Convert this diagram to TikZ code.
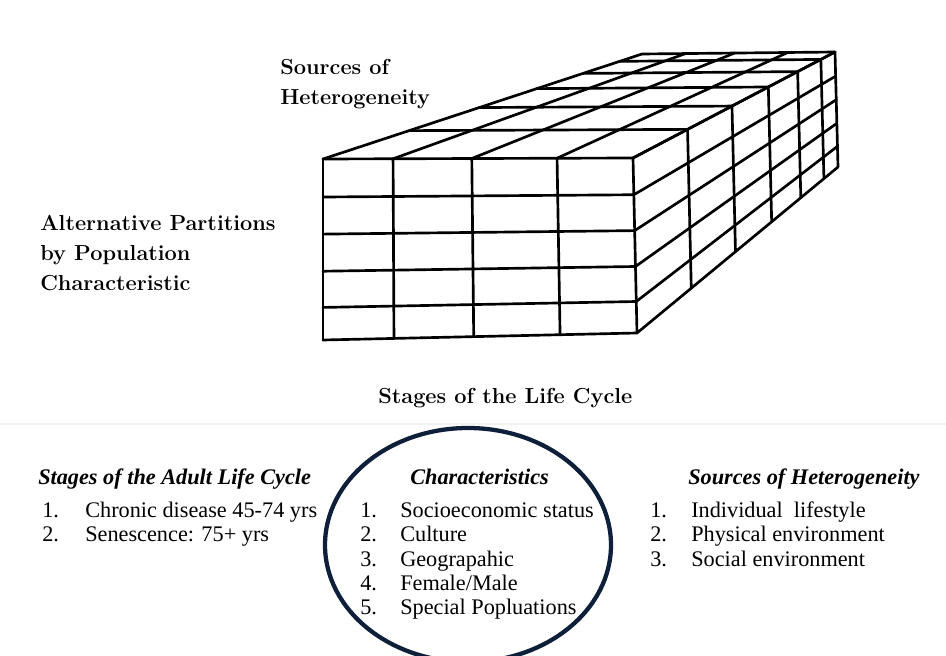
\documentclass[tikz,border=0pt]{standalone}
\usepackage{fontspec}
\newfontfamily\tnr{Liberation Serif}
\usetikzlibrary{calc}
\definecolor{navy}{RGB}{14,31,58}
\begin{document}
\begin{tikzpicture}[x=0.75pt,y=-0.75pt,
  grid/.style={line width=2pt, line cap=round, line join=round},
  biglabel/.style={anchor=base west, inner sep=0pt, font=\fontsize{16.3}{22.5}\selectfont\bfseries, align=left},
  head/.style={anchor=base west, inner sep=0pt, font=\tnr\fontsize{16.7}{18.4}\selectfont\bfseries\itshape},
  item/.style={anchor=base west, inner sep=0pt, font=\tnr\fontsize{16.7}{18.4}\selectfont}]
\useasboundingbox (0,0) rectangle (946,656);
\clip (0,0) rectangle (946,656);
% cube corners
\coordinate (FTL) at (323,159);
\coordinate (FTR) at (633,158);
\coordinate (FBL) at (323,340);
\coordinate (FBR) at (637,333);
\coordinate (BTL) at (642,54);
\coordinate (BTR) at (835,52);
\coordinate (BBR) at (838,167);
% front face
\foreach \u in {0,0.226,0.48,0.755,1}
  \draw[grid] ($(FTL)!\u!(FTR)$) -- ($(FBL)!\u!(FBR)$);
\foreach \s in {0,0.21,0.415,0.62,0.82,1}
  \draw[grid] ($(FTL)!\s!(FBL)$) -- ($(FTR)!\s!(FBR)$);
% top face
\foreach \u in {0,0.226,0.48,0.755,1}
  \draw[grid] ($(FTL)!\u!(FTR)$) -- ($(BTL)!\u!(BTR)$);
\foreach \t in {0.27,0.49,0.67,0.815,0.93,1}
  \draw[grid] ($(FTL)!\t!(BTL)$) -- ($(FTR)!\t!(BTR)$);
% right face
\foreach \t in {0.27,0.49,0.67,0.815,0.93,1}
  \draw[grid] ($(FTR)!\t!(BTR)$) -- ($(FBR)!\t!(BBR)$);
\foreach \s in {0,0.21,0.415,0.62,0.82,1}
  \draw[grid] ($(FTR)!\s!(FBR)$) -- ($(BTR)!\s!(BBR)$);
% cube labels (base = last line)
\node[biglabel] (src) at (280,105) {Sources of\\Heterogeneity};
\node[biglabel] (alt) at (40,290) {Alternative Partitions\\by Population\\Characteristic};
\node[biglabel] (stg) at (378,403) {Stages of the Life Cycle};
% separator
\draw[black!5, line width=1pt] (0,424) -- (946,424);
% ellipse
\coordinate (ec) at (468,545);
\draw[navy, line width=3.2pt] (ec) ellipse [x radius=143, y radius=117];
% columns
\node[head] (h1) at (38,484) {Stages of the Adult Life Cycle};
\node[item] (n11) at (42,517) {1.};
\node[item] (t11) at (85,517) {Chronic disease 45-74 yrs};
\node[item] (n12) at (42,541) {2.};
\node[item] (t12) at (85,541) {Senescence: 75+ yrs};
\node[head] (h2) at (410,484) {Characteristics};
\node[item] (n21) at (360,517) {1.};
\node[item] (t21) at (400,517) {Socioeconomic status};
\node[item] (n22) at (360,541) {2.};
\node[item] (t22) at (400,541) {Culture};
\node[item] (n23) at (360,566) {3.};
\node[item] (t23) at (400,566) {Geograpahic};
\node[item] (n24) at (360,590) {4.};
\node[item] (t24) at (400,590) {Female/Male};
\node[item] (n25) at (360,614) {5.};
\node[item] (t25) at (400,614) {Special Popluations};
\node[head] (h3) at (688,484) {Sources of Heterogeneity};
\node[item] (n31) at (650,517) {1.};
\node[item] (t31) at (691,517) {Individual\ \ lifestyle};
\node[item] (n32) at (650,541) {2.};
\node[item] (t32) at (691,541) {Physical environment};
\node[item] (n33) at (650,566) {3.};
\node[item] (t33) at (691,566) {Social environment};
\end{tikzpicture}
\end{document}
